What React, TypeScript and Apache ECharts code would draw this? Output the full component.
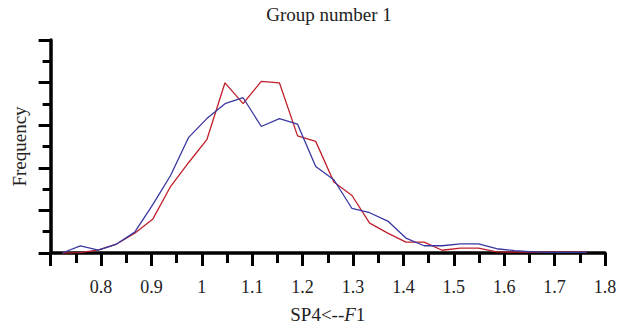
import React, { useEffect, useRef } from "react";
import * as echarts from "echarts";

const xValues = [
  0.723, 0.759, 0.795, 0.831, 0.867, 0.903, 0.938, 0.974, 1.01, 1.046,
  1.082, 1.118, 1.154, 1.19, 1.226, 1.262, 1.298, 1.333, 1.369, 1.405,
  1.441, 1.477, 1.513, 1.549, 1.585, 1.621, 1.657, 1.692, 1.728, 1.764,
];
const blueSeries = [
  0, 0.33, 0.14, 0.42, 0.98, 2.28, 3.64, 5.43, 6.31, 7.01,
  7.29, 5.94, 6.31, 6.05, 4.06, 3.44, 2.09, 1.89, 1.5, 0.7,
  0.34, 0.34, 0.43, 0.43, 0.2, 0.11, 0.05, 0.03, 0.03, 0.03,
];
const redSeries = [
  0, 0.02, 0.15, 0.42, 0.93, 1.6, 3.12, 4.25, 5.32, 7.99,
  7.01, 8.06, 7.99, 5.5, 5.24, 3.33, 2.7, 1.4, 0.93, 0.51,
  0.51, 0.13, 0.23, 0.23, 0.05, 0.04, 0.04, 0.04, 0.04, 0.04,
];
const titleText = "Group number 1";
const yName = "Frequency";

const FONT = "'Liberation Serif', 'DejaVu Serif', serif";

export default function App() {
  const ref = useRef<HTMLDivElement>(null);
  useEffect(() => {
    if (!ref.current) return;
    const chart = echarts.init(ref.current, null, { renderer: "svg" });
    const pairs = (ys: number[]) => xValues.map((x, i) => [x, ys[i]]);
    chart.setOption({
      animation: false,
      backgroundColor: "#ffffff",
      grid: { left: 50.6, right: 33, top: 40, bottom: 74, containLabel: false },
      graphic: [
        {
          type: "text",
          x: 329,
          y: 14,
          style: {
            text: titleText,
            align: "center",
            verticalAlign: "middle",
            fontSize: 19,
            fontFamily: FONT,
            fill: "#222",
          },
        },
      ],
      xAxis: {
        type: "value",
        min: 0.7,
        max: 1.8,
        interval: 0.1,
        axisLine: { show: true, lineStyle: { color: "#000", width: 3.5 } },
        axisTick: { show: true, length: 13, lineStyle: { color: "#000", width: 3 } },
        minorTick: { show: true, splitNumber: 2, length: 10, lineStyle: { color: "#000", width: 3 } },
        splitLine: { show: false },
        minorSplitLine: { show: false },
        axisLabel: {
          showMinLabel: false,
          margin: 25,
          fontSize: 18,
          fontFamily: FONT,
          color: "#222",
        },
        name: "{a|SP4<--}{b|F}{a|1}",
        nameLocation: "middle",
        nameGap: 52,
        nameTextStyle: {
          rich: {
            a: { fontSize: 19, fontFamily: FONT, color: "#222" },
            b: { fontSize: 19, fontFamily: FONT, fontStyle: "italic", color: "#222" },
          },
        },
      },
      yAxis: {
        type: "value",
        min: 0,
        max: 10,
        interval: 2,
        axisLine: { show: true, lineStyle: { color: "#000", width: 3.5 } },
        axisTick: { show: true, length: 12, lineStyle: { color: "#000", width: 3 } },
        minorTick: { show: true, splitNumber: 2, length: 8, lineStyle: { color: "#000", width: 3 } },
        splitLine: { show: false },
        minorSplitLine: { show: false },
        axisLabel: { show: false },
        name: yName,
        nameLocation: "middle",
        nameGap: 22,
        nameTextStyle: { fontSize: 19, fontFamily: FONT, color: "#222" },
      },
      series: [
        {
          type: "line",
          data: pairs(redSeries),
          showSymbol: false,
          lineStyle: { color: "#c0202c", width: 1.3 },
          itemStyle: { color: "#c0202c" },
        },
        {
          type: "line",
          data: pairs(blueSeries),
          showSymbol: false,
          lineStyle: { color: "#3838a2", width: 1.3 },
          itemStyle: { color: "#3838a2" },
        },
      ],
    });
    return () => chart.dispose();
  }, []);
  return (
    <div
      ref={ref}
      style={{ position: "fixed", left: 0, top: 0, width: 638, height: 329, background: "#fff" }}
    />
  );
}
